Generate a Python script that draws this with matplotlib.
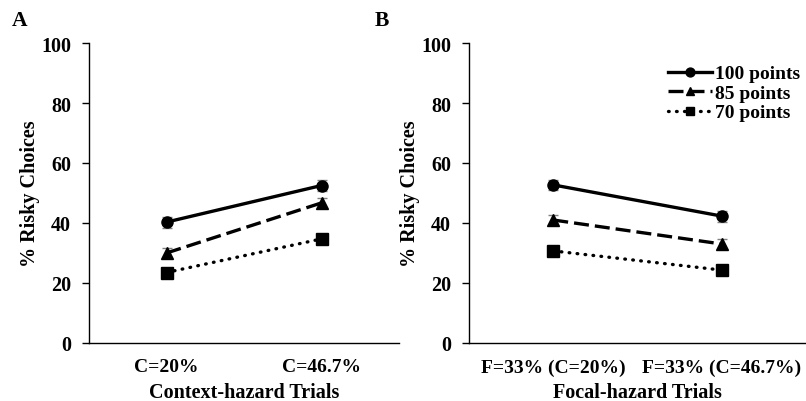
import matplotlib
matplotlib.use("Agg")
import matplotlib.pyplot as plt

plt.rcParams['font.family'] = ['Liberation Serif', 'DejaVu Serif']
plt.rcParams['font.weight'] = 'bold'

series_names = ["100 points", "85 points", "70 points"]
markers = ["o", "^", "s"]
styles = ["-", (0, (4.5, 1.8)), (0, (0.2, 2.2))]

a_cats = ["C=20%", "C=46.7%"]
a_vals = {"100 points": [40.3, 52.5], "85 points": [30.0, 46.7], "70 points": [23.5, 34.7]}
a_err = {"100 points": [1.8, 1.8], "85 points": [1.8, 1.8], "70 points": [1.2, 1.2]}

b_cats = ["F=33% (C=20%)", "F=33% (C=46.7%)"]
b_vals = {"100 points": [52.7, 42.3], "85 points": [41.0, 33.0], "70 points": [30.7, 24.3]}
b_err = {"100 points": [1.8, 1.8], "85 points": [1.8, 1.8], "70 points": [1.2, 1.2]}

fig = plt.figure(figsize=(8.06, 4.02), dpi=100)
axA = fig.add_axes([89/806, 1-344/402, 310/806, 300/402])
axB = fig.add_axes([469/806, 1-344/402, 337/806, 300/402])

def draw(ax, cats, vals, errs, xlabel):
    x = list(range(len(cats)))
    for name, m, ls in zip(series_names, markers, styles):
        ax.errorbar(x, vals[name], yerr=errs[name], fmt='none', ecolor='#808080',
                    elinewidth=1, capsize=3.5, zorder=2)
        ax.plot(x, vals[name], color='black', linestyle=ls, linewidth=2.4,
                marker=m, markersize=8, label=name, zorder=3,
                dash_capstyle='round' if name == "70 points" else 'butt')
    ax.set_xlim(-0.5, 1.5)
    ax.set_ylim(0, 100)
    ax.set_yticks([0, 20, 40, 60, 80, 100])
    ax.set_xticks(x)
    ax.set_xticklabels(cats)
    ax.tick_params(axis='y', direction='out', length=5, width=1, labelsize=14.5, pad=8)
    ax.tick_params(axis='x', length=0, labelsize=14, pad=11)
    for lab in ax.get_yticklabels() + ax.get_xticklabels():
        lab.set_fontweight('bold')
    ax.spines['top'].set_visible(False)
    ax.spines['right'].set_visible(False)
    ax.spines['left'].set_linewidth(1)
    ax.spines['bottom'].set_linewidth(1)
    ax.set_xlabel(xlabel, fontsize=14.5, fontweight='bold', labelpad=4.5)
    ax.set_ylabel("% Risky Choices", fontsize=14.5, fontweight='bold', labelpad=1)

draw(axA, a_cats, a_vals, a_err, "Context-hazard Trials")
draw(axB, b_cats, b_vals, b_err, "Focal-hazard Trials")

leg = axB.legend(loc='upper right', bbox_to_anchor=(1.024, 0.973), frameon=False,
                 handlelength=2.3, handletextpad=0.15, labelspacing=0.1,
                 borderaxespad=0.3, markerscale=0.8,
                 prop={'weight': 'bold', 'size': 14})

fig.text(12/806, 1-21/402, "A", fontsize=15.5, fontweight='bold', va='center')
fig.text(375/806, 1-21/402, "B", fontsize=15.5, fontweight='bold', va='center')

fig.savefig("out.png", dpi=100)
